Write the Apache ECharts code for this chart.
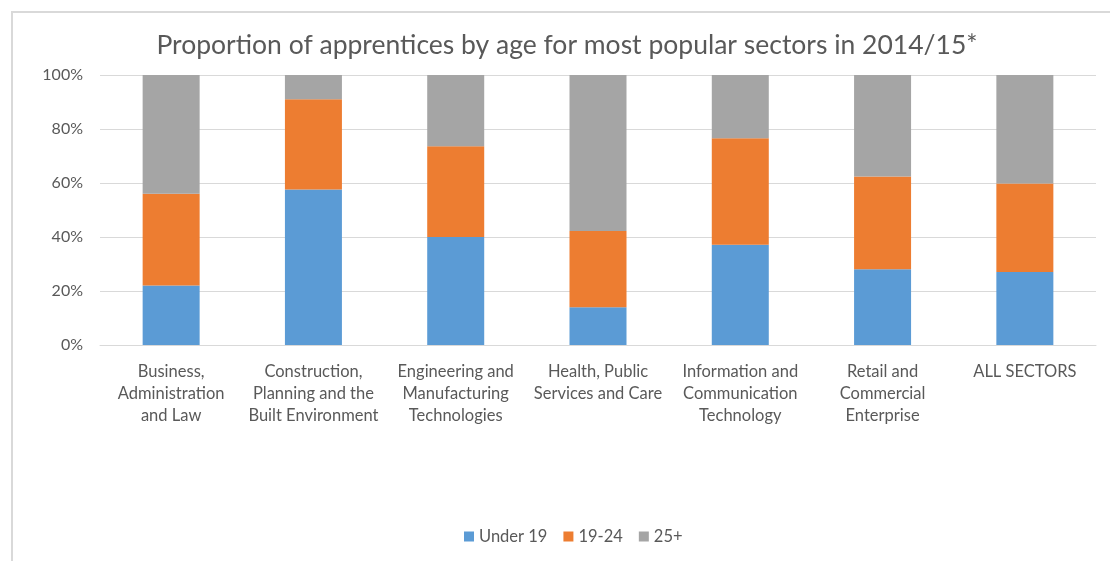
<!DOCTYPE html>
<html lang="en">
<head>
    <meta charset="UTF-8">
    <title>Apprentices by age</title>
    <script src="https://cdn.jsdelivr.net/npm/echarts@6/dist/echarts.min.js"></script>
    <style>
        html, body { margin: 0; padding: 0; background: #fff; overflow: hidden; }
        #main {
            position: absolute; left: 11px; top: 11px;
            width: 1108px; height: 570px;
            border: 2px solid #d9d9d9;
        }
    </style>
</head>
<body>
<div id="main"></div>
<script type="text/javascript">
    // sectors (Excel wrapped these labels onto several lines)
    var sectors = [
        'Business,\nAdministration\nand Law',
        'Construction,\nPlanning and the\nBuilt Environment',
        'Engineering and\nManufacturing\nTechnologies',
        'Health, Public\nServices and Care',
        'Information and\nCommunication\nTechnology',
        'Retail and\nCommercial\nEnterprise',
        'ALL SECTORS'
    ];
    // share of apprentices in each age group, %
    var under19 = [22, 57.6, 40, 14, 37.1, 28.1, 27];
    var age19to24 = [34, 33.4, 33.6, 28.2, 39.5, 34.3, 32.8];
    var age25plus = [44, 9, 26.4, 57.8, 23.4, 37.6, 40.2];
    var seriesNames = ['Under 19', '19-24', '25+'];

    var font = 'Lato, "Open Sans", sans-serif';
    var textColor = '#595959';

    var myChart = echarts.init(document.getElementById('main'));

    function bar(name, data, color) {
        return {
            name: name,
            type: 'bar',
            stack: 'age',
            data: data,
            barWidth: 57,
            itemStyle: {color: color}
        };
    }

    myChart.setOption({
        animation: false,
        textStyle: {fontFamily: font},
        title: {
            text: 'Proportion of apprentices by age for most popular sectors in 2014/15*',
            left: 'center',
            top: 14,
            textStyle: {fontFamily: font, fontSize: 26.5, fontWeight: 'normal', color: textColor}
        },
        legend: {
            data: seriesNames,
            left: 446,
            top: 510,
            itemWidth: 10,
            itemHeight: 10,
            itemGap: 16,
            icon: 'rect',
            textStyle: {fontFamily: font, fontSize: 16.5, color: textColor}
        },
        grid: {left: 87, top: 62, width: 996, height: 270},
        xAxis: {
            type: 'category',
            data: sectors,
            axisLine: {lineStyle: {color: '#d9d9d9', width: 1}},
            axisTick: {show: false},
            axisLabel: {
                interval: 0,
                margin: 16,
                fontSize: 16.5,
                lineHeight: 22,
                color: textColor,
                fontFamily: font
            }
        },
        yAxis: {
            type: 'value',
            min: 0,
            max: 100,
            interval: 20,
            axisLine: {show: false},
            axisTick: {show: false},
            splitLine: {lineStyle: {color: '#d9d9d9', width: 1}},
            axisLabel: {
                formatter: '{value}%',
                margin: 17,
                fontSize: 16,
                color: textColor,
                fontFamily: font
            }
        },
        series: [
            bar(seriesNames[0], under19, '#5b9bd5'),
            bar(seriesNames[1], age19to24, '#ed7d31'),
            bar(seriesNames[2], age25plus, '#a5a5a5')
        ]
    });
</script>
</body>
</html>
